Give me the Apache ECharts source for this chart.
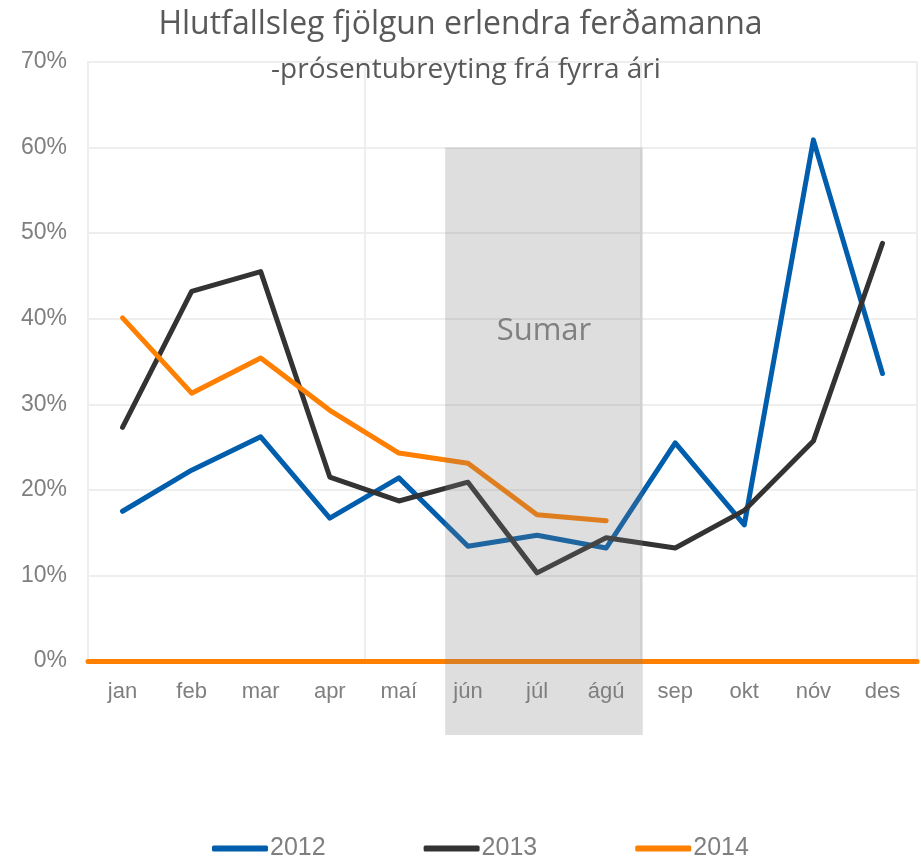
<!DOCTYPE html>
<html>
<head>
<meta charset="utf-8">
<script src="https://cdn.jsdelivr.net/npm/echarts@6/dist/echarts.min.js"></script>
<style>
  html, body { margin: 0; padding: 0; background: #fff; }
  #chart { width: 921px; height: 858px; }
</style>
</head>
<body>
<div id="chart"></div>
<script>
var months = ['jan', 'feb', 'mar', 'apr', 'maí', 'jún', 'júl', 'ágú', 'sep', 'okt', 'nóv', 'des'];
var y2012 = [17.5, 22.3, 26.2, 16.7, 21.4, 13.4, 14.7, 13.2, 25.5, 15.9, 60.9, 33.6];
var y2013 = [27.3, 43.2, 45.5, 21.5, 18.7, 20.9, 10.3, 14.4, 13.2, 17.6, 25.7, 48.8];
var y2014 = [40.1, 31.3, 35.4, 29.3, 24.3, 23.1, 17.1, 16.4];
var yTicks = [0, 10, 20, 30, 40, 50, 60, 70];
// summer band: from jún to ágú, top at 60%
var summer = { from: 'jún', to: 'ágú', top: 60, label: 'Sumar' };

var chart = echarts.init(document.getElementById('chart'));

function line(name, data, color) {
	return {
		name: name,
		type: 'line',
		data: data,
		symbol: 'none',
		color: color,
		lineStyle: { width: 5, color: color, cap: 'round', join: 'round' },
		z: 3
	};
}

var option = {
	animation: false,
	title: [
		{
			text: 'Hlutfallsleg fjölgun erlendra ferðamanna',
			left: 'center',
			top: 4,
			textStyle: { fontFamily: 'Open Sans', fontSize: 32, fontWeight: 'normal', color: '#595959' }
		},
		{
			text: '-prósentubreyting frá fyrra ári',
			left: 461,
			top: 51,
			textAlign: 'center',
			textStyle: { fontFamily: 'Open Sans', fontSize: 28, fontWeight: 'normal', color: '#595959' }
		}
	],
	grid: { left: 88, right: 4, top: 62, bottom: 197, show: true, borderColor: '#eeeeee', borderWidth: 2 },
	legend: {
		bottom: -8,
		left: 207,
		itemWidth: 56,
		itemHeight: 6,
		itemGap: 98,
		icon: 'roundRect',
		textStyle: { fontFamily: 'Liberation Sans Narrow, Liberation Sans', fontSize: 25, color: '#7f7f7f', padding: [0, 0, 0, -3] },
		data: ['2012', '2013', '2014']
	},
	xAxis: {
		type: 'category',
		data: months,
		boundaryGap: true,
		axisLine: { lineStyle: { color: '#ff7f00', width: 5 } },
		axisTick: { show: false },
		axisLabel: { color: '#7f7f7f', fontSize: 22, fontFamily: 'Liberation Sans', margin: 20, interval: 0 },
		splitLine: {
			show: true,
			interval: function (index) { return index % 4 === 0; },
			lineStyle: { color: '#eeeeee', width: 2 }
		}
	},
	yAxis: {
		type: 'value',
		min: yTicks[0],
		max: yTicks[yTicks.length - 1],
		interval: 10,
		axisLine: { show: false },
		axisTick: { show: false },
		axisLabel: { formatter: '{value}%', color: '#7f7f7f', fontSize: 23, fontFamily: 'Liberation Sans', margin: 21 },
		splitLine: { lineStyle: { color: '#eeeeee', width: 2 } }
	},
	series: [
		line('2012', y2012, '#005eac'),
		line('2013', y2013, '#333333'),
		line('2014', y2014, '#ff7f00')
	]
};
chart.setOption(option);

// gray summer overlay, placed from the axes
var iFrom = months.indexOf(summer.from), iTo = months.indexOf(summer.to);
var band = chart.convertToPixel({ xAxisIndex: 0 }, months[1]) - chart.convertToPixel({ xAxisIndex: 0 }, months[0]);
var x0 = chart.convertToPixel({ xAxisIndex: 0 }, months[iFrom]) - band * 0.33;
var x1 = chart.convertToPixel({ xAxisIndex: 0 }, months[iTo]) + band * 0.53;
var yTop = chart.convertToPixel({ yAxisIndex: 0 }, summer.top);
var yZero = chart.convertToPixel({ yAxisIndex: 0 }, 0);
var yLab = chart.convertToPixel({ yAxisIndex: 0 }, 38.6);

chart.setOption({
	graphic: [
		{
			type: 'rect',
			z: 100,
			shape: { x: x0, y: yTop, width: x1 - x0, height: yZero - yTop + 74 },
			style: { fill: 'rgba(125,125,125,0.25)' }
		},
		{
			type: 'text',
			z: 101,
			x: (x0 + x1) / 2,
			y: yLab,
			style: {
				text: summer.label,
				fill: '#808080',
				font: '31px "Open Sans"',
				align: 'center',
				verticalAlign: 'middle'
			}
		}
	]
});
</script>
</body>
</html>
